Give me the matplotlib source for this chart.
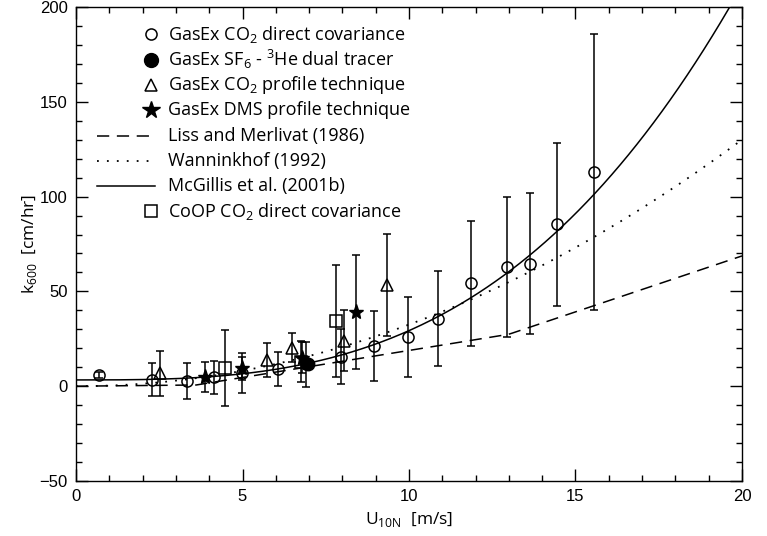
import numpy as np
import matplotlib.pyplot as plt
from matplotlib.ticker import MultipleLocator

plt.rcParams['font.family'] = ['Liberation Sans', 'DejaVu Sans']
plt.rcParams['axes.linewidth'] = 1.0

# GasEx CO2 direct covariance (open circles)
dc_u = [0.70, 2.27, 3.34, 4.15, 4.97, 6.06, 6.90, 7.96, 8.94, 9.98, 10.86, 11.85, 12.95, 13.63, 14.45, 15.56]
dc_k = [5.8, 3.5, 2.8, 4.6, 7.0, 9.0, 11.5, 15.5, 21.1, 26.0, 35.7, 54.2, 62.9, 64.7, 85.4, 113.0]
dc_err = [1.5, 8.5, 9.3, 8.5, 10.5, 8.9, 12.0, 14.5, 18.5, 21.0, 25.3, 33.0, 37.0, 37.0, 43.0, 73.0]

# GasEx SF6 - 3He dual tracer (filled circle)
dt_u = [6.98]
dt_k = [11.8]

# GasEx CO2 profile technique (triangles)
pr_u = [2.52, 5.73, 6.50, 8.05, 9.34]
pr_k = [6.7, 14.0, 20.4, 24.0, 53.3]
pr_err = [11.8, 9.0, 7.5, 16.0, 27.0]

# GasEx DMS profile technique (stars)
dms_u = [3.87, 4.98, 6.80, 8.41]
dms_k = [4.9, 9.5, 15.1, 39.2]
dms_err = [7.9, 6.0, 8.0, 30.0]

# CoOP CO2 direct covariance (squares)
coop_u = [4.47, 6.75, 7.81]
coop_k = [9.7, 13.0, 34.3]
coop_err = [20.0, 11.0, 29.5]

# published parameterisations (k600 vs U10N)
lm_breaks = [3.6, 13.0]
lm_slope = [0.17, 2.85, 5.9]
lm_icpt = [0.0, -9.65, -49.3]
wan_coef = 0.325
mcg_coef = [3.3, 0.026]

labels = [r'GasEx CO$_\mathregular{2}$ direct covariance',
          r'GasEx SF$_\mathregular{6}$ - $^\mathregular{3}$He dual tracer',
          r'GasEx CO$_\mathregular{2}$ profile technique',
          'GasEx DMS profile technique',
          'Liss and Merlivat (1986)',
          'Wanninkhof (1992)',
          'McGillis et al. (2001b)',
          r'CoOP CO$_\mathregular{2}$ direct covariance']

txt_font = ['Open Sans', 'DejaVu Sans']

fig = plt.figure(figsize=(7.67, 5.36), dpi=100)
ax = fig.add_axes([0.0991, 0.1026, 0.8683, 0.8844])

u = np.linspace(0, 20, 400)
lm = np.where(u < lm_breaks[0], lm_slope[0] * u + lm_icpt[0],
              np.where(u < lm_breaks[1], lm_slope[1] * u + lm_icpt[1], lm_slope[2] * u + lm_icpt[2]))
ax.plot(u, lm, color='black', lw=1.1, linestyle=(0, (8, 5)))
ax.plot(u, wan_coef * u**2, color='black', lw=1.3, linestyle=(0, (1, 4.5)))
ax.plot(u, mcg_coef[0] + mcg_coef[1] * u**3, color='black', lw=1.1)

eb = dict(fmt='none', ecolor='black', elinewidth=1.1, capsize=3, capthick=1.1)
ax.errorbar(dc_u, dc_k, yerr=dc_err, **eb)
ax.errorbar(pr_u, pr_k, yerr=pr_err, **eb)
ax.errorbar(dms_u, dms_k, yerr=dms_err, **eb)
ax.errorbar(coop_u, coop_k, yerr=coop_err, **eb)

ax.plot(dc_u, dc_k, 'o', ms=8, mfc='none', mec='black', mew=1.1)
ax.plot(pr_u, pr_k, '^', ms=8.5, mfc='none', mec='black', mew=1.1)
ax.plot(coop_u, coop_k, 's', ms=8.5, mfc='none', mec='black', mew=1.1)
ax.plot(dms_u, dms_k, '*', ms=11, color='black')
ax.plot(dt_u, dt_k, 'o', ms=9, color='black')

# legend drawn by hand (markers sit at right end of the handle)
rows = 0.942 - 0.0533 * np.arange(len(labels))
mk = [dict(marker='o', ms=8, mfc='none', mec='black', mew=1.1),
      dict(marker='o', ms=10, color='black'),
      dict(marker='^', ms=9, mfc='none', mec='black', mew=1.1),
      dict(marker='*', ms=13, color='black')]
for i in range(4):
    ax.plot([0.112], [rows[i]], transform=ax.transAxes, linestyle='none', **mk[i])
ax.plot([0.031, 0.119], [rows[4]] * 2, transform=ax.transAxes, color='black', lw=1.1, linestyle=(0, (8, 5)))
ax.plot([0.031, 0.119], [rows[5]] * 2, transform=ax.transAxes, color='black', lw=1.3, linestyle=(0, (1, 4.5)))
ax.plot([0.031, 0.119], [rows[6]] * 2, transform=ax.transAxes, color='black', lw=1.1)
ax.plot([0.112], [rows[7]], transform=ax.transAxes, marker='s', ms=8.5, mfc='none', mec='black', mew=1.1)
for i, lab in enumerate(labels):
    ax.text(0.138, rows[i], lab, transform=ax.transAxes, fontsize=13, va='center', family=txt_font)

ax.set_xlim(0, 20)
ax.set_ylim(-50, 200)
ax.xaxis.set_major_locator(MultipleLocator(5))
ax.xaxis.set_minor_locator(MultipleLocator(1))
ax.yaxis.set_major_locator(MultipleLocator(50))
ax.yaxis.set_minor_locator(MultipleLocator(10))
ax.tick_params(which='both', direction='in', top=True, right=True, labelsize=12, width=1.0)
ax.tick_params(which='major', length=8.5, pad=6)
ax.tick_params(which='minor', length=4)

ax.set_xlabel(r'U$_\mathregular{10N}$  [m/s]', fontsize=12.5, family=txt_font)
ax.set_ylabel(r'k$_\mathregular{600}$  [cm/hr]', fontsize=12.5, family=txt_font, labelpad=0)

plt.savefig('out.png', dpi=100)
